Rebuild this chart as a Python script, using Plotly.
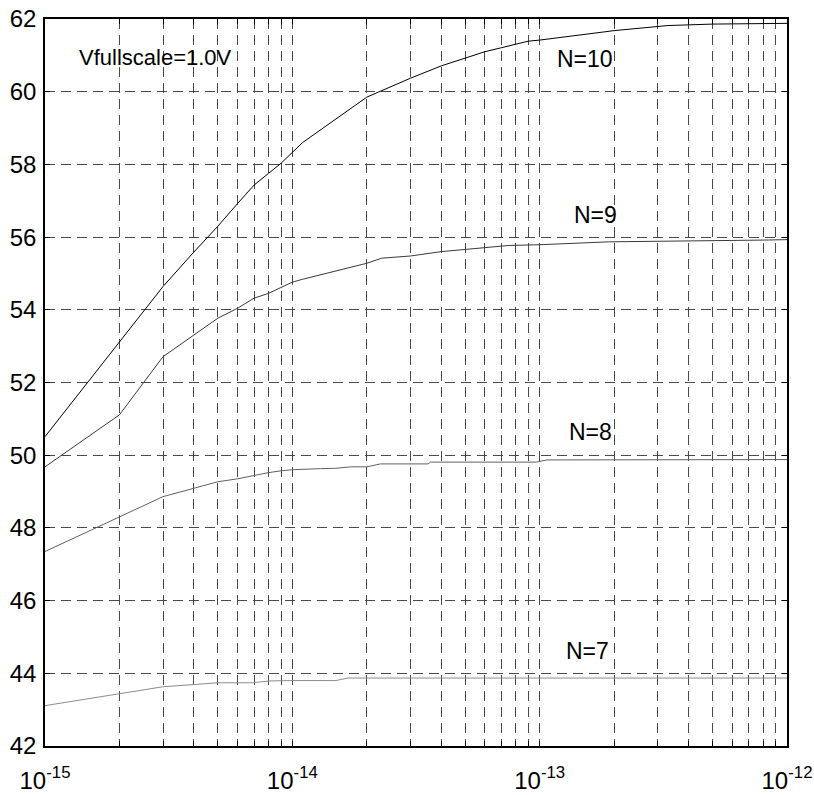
import math
import plotly.graph_objects as go

# Capacitance sweep (F) and resulting SNR (dB) for each resolution N
x_n10 = [1e-15, 2e-15, 3e-15, 4e-15, 5e-15, 6e-15, 7e-15, 8e-15, 9e-15, 1e-14, 1.1e-14,
         2e-14, 3e-14, 4e-14, 5e-14, 6e-14, 7e-14, 8e-14, 9e-14, 1e-13, 2e-13, 3.3e-13,
         5e-13, 1e-12]
snr_n10 = [50.51, 53.12, 54.64, 55.59, 56.3, 56.92, 57.43, 57.75, 58.03, 58.33, 58.6,
           59.85, 60.37, 60.71, 60.92, 61.1, 61.21, 61.31, 61.39, 61.42, 61.68, 61.82,
           61.86, 61.88]

x_n9 = [1e-15, 2e-15, 3e-15, 4e-15, 5e-15, 6e-15, 7e-15, 8e-15, 9e-15, 1e-14, 1.1e-14,
        2e-14, 2.3e-14, 3e-14, 4e-14, 5e-14, 6e-14, 7.5e-14, 1e-13, 1.9e-13, 8.4e-13, 1e-12]
snr_n9 = [49.68, 51.11, 52.71, 53.31, 53.77, 54.04, 54.32, 54.45, 54.62, 54.76, 54.84,
          55.28, 55.42, 55.48, 55.6, 55.66, 55.71, 55.77, 55.79, 55.87, 55.92, 55.93]

x_n8 = [1e-15, 2e-15, 3e-15, 4e-15, 5e-15, 6e-15, 7e-15, 8e-15, 9e-15, 1e-14, 1.3e-14,
        1.5e-14, 1.73e-14, 2.0e-14, 2.27e-14, 3.54e-14, 3.62e-14, 9.7e-14, 1.07e-13, 1e-12]
snr_n8 = [47.35, 48.29, 48.86, 49.09, 49.27, 49.35, 49.45, 49.52, 49.57, 49.6, 49.63,
          49.64, 49.68, 49.68, 49.76, 49.76, 49.81, 49.81, 49.87, 49.88]

x_n7 = [1e-15, 2e-15, 3e-15, 4e-15, 5e-15, 6.9e-15, 8.1e-15, 1e-14, 1.5e-14, 1.68e-14, 1e-12]
snr_n7 = [43.11, 43.43, 43.63, 43.69, 43.74, 43.74, 43.79, 43.80, 43.80, 43.87, 43.87]

series = [
    ("N=10", x_n10, snr_n10, "#000000"),
    ("N=9", x_n9, snr_n9, "#3a3a3a"),
    ("N=8", x_n8, snr_n8, "#606060"),
    ("N=7", x_n7, snr_n7, "#8c8c8c"),
]

# Curve labels: (text, x in F, y in dB)
curve_labels = [
    ("N=10", 1.15e-13, 60.9),
    ("N=9", 1.35e-13, 56.6),
    ("N=8", 1.29e-13, 50.65),
    ("N=7", 1.26e-13, 44.6),
]
note_text = "Vfullscale=1.0V"
note_pos = (1.35e-15, 60.93)

decades = [-15, -14, -13, -12]
x_tickvals = [10.0 ** e for e in decades]
x_ticktext = [f"10<sup>{e}</sup>" for e in decades]
x_minorvals = [k * 10.0 ** e for e in decades[:-1] for k in range(2, 10)]
y_tickvals = list(range(42, 63, 2))

text_font = "Liberation Sans, Arial, sans-serif"
grid_style = dict(gridcolor="#4a4a4a", gridwidth=1, griddash="10px,6px")

fig = go.Figure()
for name, xs, ys, color in series:
    fig.add_trace(go.Scatter(x=xs, y=ys, mode="lines", name=name,
                             line=dict(color=color, width=1), showlegend=False))

# annotation x on a log axis is given in log10 units
for txt, lx, ly in curve_labels:
    fig.add_annotation(x=math.log10(lx), y=ly, xref="x", yref="y", text=txt,
                       showarrow=False, xanchor="left", yanchor="middle",
                       font=dict(family=text_font, size=23, color="#000"))
fig.add_annotation(x=math.log10(note_pos[0]), y=note_pos[1], xref="x", yref="y",
                   text=note_text, showarrow=False, xanchor="left", yanchor="middle",
                   font=dict(family=text_font, size=22, color="#000"))

axis_common = dict(
    showline=True, linecolor="#000", linewidth=1.5, mirror="ticks",
    ticks="inside", ticklen=5, tickcolor="#000", tickwidth=1,
    showgrid=True, zeroline=False,
    tickfont=dict(family=text_font, size=24, color="#000"),
    **grid_style,
)

fig.update_xaxes(type="log", range=[-15, -12], tickmode="array",
                 tickvals=x_tickvals, ticktext=x_ticktext, ticklabelstandoff=12,
                 minor=dict(tickvals=x_minorvals, ticks="inside", ticklen=5,
                            tickcolor="#000", showgrid=True, **grid_style),
                 **axis_common)
fig.update_yaxes(range=[42, 62], tickmode="array", tickvals=y_tickvals,
                 ticktext=[str(v) for v in y_tickvals], ticklabelstandoff=2,
                 **axis_common)

fig.update_layout(
    width=814, height=795,
    margin=dict(l=45, r=27, t=19, b=49, autoexpand=False),
    paper_bgcolor="white", plot_bgcolor="white",
)

fig.write_html("out.html")
